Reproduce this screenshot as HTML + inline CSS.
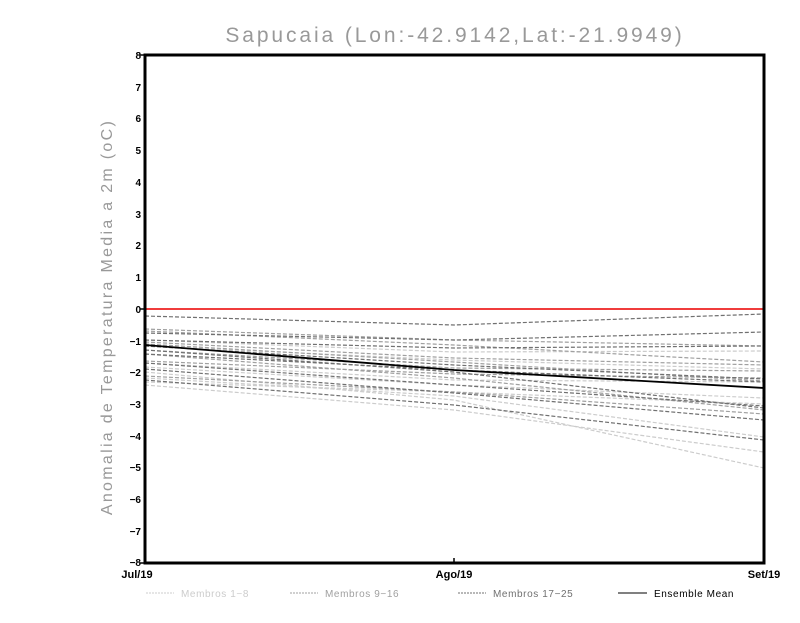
<!DOCTYPE html>
<html><head><meta charset="utf-8"><style>
body{margin:0;background:#fff;}
svg text{font-family:"Liberation Sans",sans-serif;}
</style></head><body>
<svg width="800" height="618" viewBox="0 0 800 618" xmlns="http://www.w3.org/2000/svg">
<rect width="800" height="618" fill="#fff"/>
<text x="455" y="42" font-size="21" text-anchor="middle" fill="#999" letter-spacing="2.9">Sapucaia (Lon:-42.9142,Lat:-21.9949)</text>
<text transform="translate(112,317) rotate(-90)" font-size="16" text-anchor="middle" fill="#999" letter-spacing="2.3">Anomalia de Temperatura Media a 2m (oC)</text>
<g stroke-dasharray="4,2" stroke-width="1.2" fill="none">
<g stroke="#cccccc">
<polyline points="145,372 454,400 764,468"/>
<polyline points="145,382 454,392 764,404"/>
<polyline points="145,378 454,396 764,437"/>
<polyline points="145,363 454,380 764,382"/>
<polyline points="145,346 454,360 764,369"/>
<polyline points="145,385 454,410 764,452"/>
<polyline points="145,340 454,352 764,351"/>
<polyline points="145,367 454,385 764,398"/>
</g>
<g stroke="#a0a0a0">
<polyline points="145,331 454,345 764,362"/>
<polyline points="145,342 454,358 764,365"/>
<polyline points="145,354 454,378 764,410"/>
<polyline points="145,329 454,340 764,346"/>
<polyline points="145,361 454,374 764,378"/>
<polyline points="145,344 454,362 764,381"/>
<polyline points="145,376 454,392 764,414"/>
<polyline points="145,350 454,368 764,371"/>
</g>
<g stroke="#707070">
<polyline points="145,316 454,325 764,314"/>
<polyline points="145,333 454,340 764,332"/>
<polyline points="145,340 454,348 764,346"/>
<polyline points="145,346 454,365 764,379"/>
<polyline points="145,350 454,372 764,408"/>
<polyline points="145,363 454,385 764,406"/>
<polyline points="145,369 454,393 764,420"/>
<polyline points="145,380 454,405 764,440"/>
<polyline points="145,354 454,370 764,382"/>
</g>
</g>
<polyline points="145,345 454,370 764,388" stroke="#000" stroke-width="1.8" fill="none"/>
<line x1="145" y1="309" x2="764" y2="309" stroke="#f03c3c" stroke-width="2"/>
<rect x="145" y="55" width="619" height="508" fill="none" stroke="#000" stroke-width="3"/>
<g font-size="10" font-weight="bold" text-anchor="end" fill="#000">
<text x="141" y="59">8</text><text x="141" y="91">7</text><text x="141" y="122">6</text><text x="141" y="154">5</text><text x="141" y="186">4</text><text x="141" y="218">3</text><text x="141" y="249">2</text><text x="141" y="281">1</text><text x="141" y="313">0</text><text x="141" y="345">−1</text><text x="141" y="376">−2</text><text x="141" y="408">−3</text><text x="141" y="440">−4</text><text x="141" y="471">−5</text><text x="141" y="503">−6</text><text x="141" y="535">−7</text><text x="141" y="566">−8</text>
</g>
<g stroke="#000" stroke-width="1.5">
<line x1="140" y1="55" x2="145" y2="55"/><line x1="140" y1="309" x2="145" y2="309"/><line x1="140" y1="563" x2="145" y2="563"/>
<line x1="454" y1="558" x2="454" y2="563"/>
</g>
<g font-size="11" font-weight="bold" fill="#000" text-anchor="middle">
<text x="137" y="578">Jul/19</text><text x="454" y="578">Ago/19</text><text x="764" y="578">Set/19</text>
</g>
<g font-size="10" fill="#000" letter-spacing="0.6">
<line x1="146" y1="593" x2="174" y2="593" stroke="#ccc" stroke-dasharray="2,1"/><text x="181" y="597" fill="#ccc">Membros 1−8</text>
<line x1="290" y1="593" x2="318" y2="593" stroke="#a0a0a0" stroke-dasharray="2,1"/><text x="325" y="597" fill="#a0a0a0">Membros 9−16</text>
<line x1="458" y1="593" x2="486" y2="593" stroke="#707070" stroke-dasharray="2,1"/><text x="493" y="597" fill="#707070">Membros 17−25</text>
<line x1="618" y1="593" x2="647" y2="593" stroke="#000"/><text x="654" y="597">Ensemble Mean</text>
</g>
</svg>
</body></html>
